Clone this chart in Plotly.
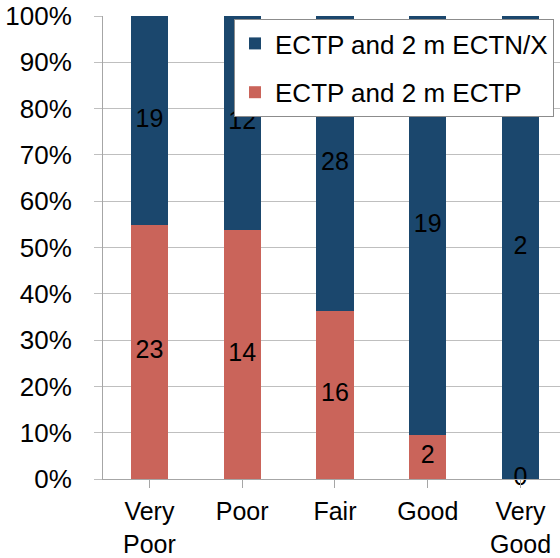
import plotly.graph_objects as go

categories = ["Very<br>Poor", "Poor", "Fair", "Good", "Very<br>Good"]
ectp_ectp = [23, 14, 16, 2, 0]
ectp_ectnx = [19, 12, 28, 19, 2]
y_ticks = [0, 10, 20, 30, 40, 50, 60, 70, 80, 90, 100]
y_tick_labels = [f"{v}%" for v in y_ticks]

totals = [a + b for a, b in zip(ectp_ectp, ectp_ectnx)]
pct_red = [100 * a / t for a, t in zip(ectp_ectp, totals)]
pct_blue = [100 * b / t for b, t in zip(ectp_ectnx, totals)]

RED = "#CA645A"
BLUE = "#1B476D"
FONT = "Liberation Sans, Arial, sans-serif"

x = list(range(len(categories)))
fig = go.Figure()
fig.add_trace(go.Bar(x=x, y=pct_red, name="ECTP and 2 m ECTP", marker_color=RED,
                     marker_line_width=0, width=0.4, legendgroup="r", legendrank=2,
                     hoverinfo="skip"))
fig.add_trace(go.Bar(x=x, y=pct_blue, name="ECTP and 2 m ECTN/X", marker_color=BLUE,
                     marker_line_width=0, width=0.4, legendgroup="b", legendrank=1,
                     hoverinfo="skip"))
# labels centered in each segment
fig.add_trace(go.Scatter(x=x, y=[p / 2 for p in pct_red], mode="text",
                         text=[str(v) for v in ectp_ectp], showlegend=False, hoverinfo="skip",
                         textfont=dict(size=25, color="black", family=FONT), cliponaxis=False))
fig.add_trace(go.Scatter(x=x, y=[r + b / 2 for r, b in zip(pct_red, pct_blue)], mode="text",
                         text=[str(v) for v in ectp_ectnx], showlegend=False, hoverinfo="skip",
                         textfont=dict(size=25, color="black", family=FONT), cliponaxis=False))

fig.update_layout(
    width=560, height=558,
    margin=dict(l=103, r=0, t=16, b=79, autoexpand=False),
    barmode="stack",
    plot_bgcolor="white", paper_bgcolor="white",
    font=dict(family=FONT, size=26, color="black"),
    legend=dict(x=0.2867, y=0.9935, xanchor="left", yanchor="top",
                bgcolor="white", bordercolor="#8c8c8c", borderwidth=1,
                font=dict(size=26, family=FONT), traceorder="grouped",
                tracegroupgap=12, itemwidth=30),
    xaxis=dict(range=[-0.5, 4.425], tickmode="array", tickvals=x, ticktext=categories,
               showgrid=False, showline=True, linecolor="#a6a6a6", linewidth=1,
               ticks="outside", ticklen=8, tickcolor="#a6a6a6", tickson="boundaries",
               tickfont=dict(size=25, family=FONT),
               ticklabelstandoff=2, zeroline=False, automargin=False),
    yaxis=dict(range=[0, 100], tickmode="array", tickvals=y_ticks, ticktext=y_tick_labels,
               showgrid=True, gridcolor="#bfbfbf", gridwidth=1,
               showline=True, linecolor="#a6a6a6", linewidth=1,
               ticks="outside", ticklen=8, tickcolor="#bfbfbf",
               ticklabelstandoff=17, zeroline=False, automargin=False),
)
fig.write_html("out.html", config={"displayModeBar": False},
               post_script="document.body.style.margin='0';document.body.style.overflow='hidden';")
